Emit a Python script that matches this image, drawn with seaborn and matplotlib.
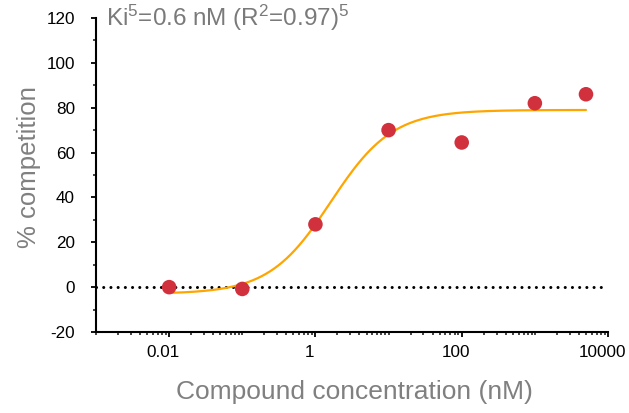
import numpy as np
import pandas as pd
import matplotlib
matplotlib.use("Agg")
import matplotlib.pyplot as plt
import matplotlib.ticker as mticker
import matplotlib.transforms as mtransforms
import seaborn as sns

# data
conc_nM = [0.01, 0.1, 1, 10, 100, 1000, 5000]
competition = [0.0, -0.8, 28.0, 70.0, 64.5, 82.0, 86.0]

# fitted 4-parameter logistic
fit_bottom = -3.0
fit_top = 79.0
fit_ec50 = 1.62
fit_hill = 1.03

x_ticks = [0.01, 1, 100, 10000]
x_ticklabels = ["0.01", "1", "100", "10000"]
y_ticks = [-20, 0, 20, 40, 60, 80, 100, 120]

sns.set_style("ticks")
plt.rcParams["font.family"] = ["Liberation Sans", "DejaVu Sans"]
plt.rcParams["axes.unicode_minus"] = False
plt.rcParams["mathtext.fontset"] = "custom"
plt.rcParams["mathtext.rm"] = "Liberation Sans"
plt.rcParams["mathtext.it"] = "Liberation Sans:italic"

df = pd.DataFrame({"conc": conc_nM, "comp": competition})
xfit = np.logspace(np.log10(conc_nM[0]), np.log10(conc_nM[-1]), 200)
yfit = fit_bottom + (fit_top - fit_bottom) / (1 + (fit_ec50 / xfit) ** fit_hill)
curve = pd.DataFrame({"conc": xfit, "comp": yfit})

fig = plt.figure(figsize=(6.29, 4.13), dpi=100)
ax = fig.add_axes([96 / 629, 1 - 332 / 413, (608 - 96) / 629, (332 - 18) / 413])

ax.axhline(0, color="black", lw=2.2, linestyle=(0, (0.01, 2.35)),
           dash_capstyle="round", xmax=0.99, zorder=1)
sns.lineplot(data=curve, x="conc", y="comp", color="#FFA500", lw=1.6, ax=ax, zorder=2)
sns.scatterplot(data=df, x="conc", y="comp", color="#D1313D", s=110,
                edgecolor="none", ax=ax, zorder=3)

ax.set_xscale("log")
ax.set_xlim(0.001, 10000)
ax.set_ylim(-20, 120)
ax.xaxis.set_major_locator(mticker.FixedLocator(x_ticks))
ax.set_xticklabels(x_ticklabels)
ax.xaxis.set_minor_locator(mticker.LogLocator(base=10, subs=np.arange(1, 10), numticks=50))
ax.xaxis.set_minor_formatter(mticker.NullFormatter())
ax.set_yticks(y_ticks)
ax.yaxis.set_minor_locator(mticker.MultipleLocator(10))

sns.despine(ax=ax)
for sp in ["left", "bottom"]:
    ax.spines[sp].set_linewidth(1.5)
    ax.spines[sp].set_color("black")
ax.tick_params(axis="both", which="major", direction="out", length=3.6, width=1.3,
               labelsize=12.3, colors="black")
ax.tick_params(axis="y", which="major", pad=11.5)
ax.tick_params(axis="x", which="major", pad=6)
ax.tick_params(axis="both", which="minor", direction="out", length=2.5, width=1.2)

# x tick labels sit a little left of their ticks in the reference
shift = mtransforms.ScaledTranslation(-6 / 100, 0, fig.dpi_scale_trans)
for lab in ax.get_xticklabels():
    lab.set_transform(lab.get_transform() + shift)

ax.set_xlabel("Compound concentration (nM)", fontsize=19, color="#808080")
ax.set_ylabel("% competition", fontsize=18.5, color="#808080")
ax.xaxis.set_label_coords((354.5 - 96) / 512, -(380 - 332) / 314)
ax.yaxis.set_label_coords(-(96 - 41) / 512, (332 - 167) / 314)

ax.text(0.02, 1.0, r"Ki$^{5}$=0.6 nM (R$^{2}$=0.97)$^{5}$", transform=ax.transAxes,
        fontsize=17.5, color="#7a7a7a", ha="left", va="center")

fig.savefig("out.png", dpi=100)
